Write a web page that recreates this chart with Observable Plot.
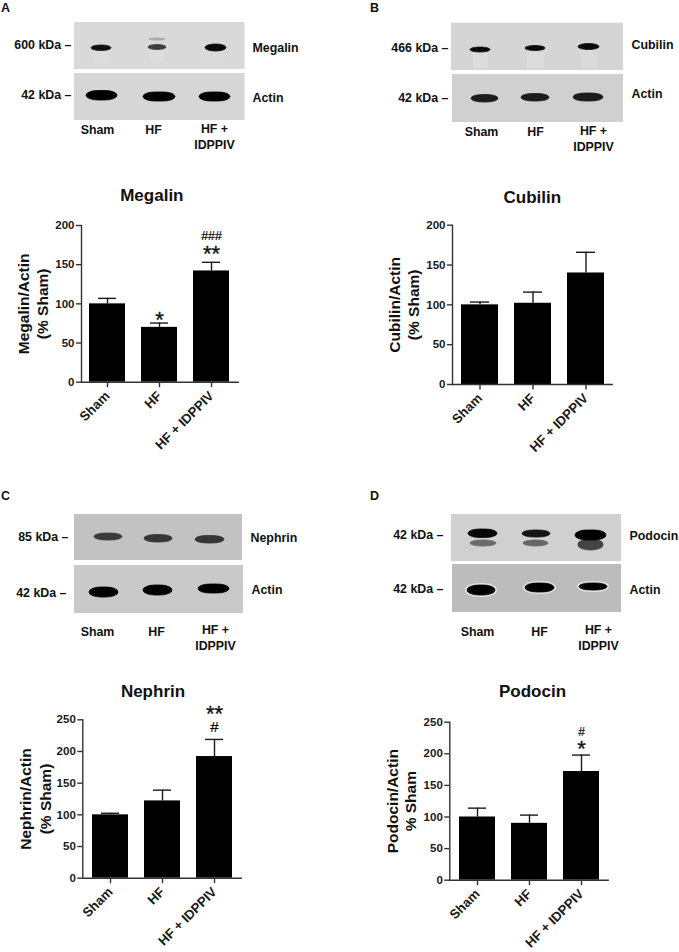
<!DOCTYPE html>
<html>
<head>
<meta charset="utf-8">
<script src="https://cdn.jsdelivr.net/npm/d3@7"></script>
<script src="https://cdn.jsdelivr.net/npm/@observablehq/plot@0.6"></script>
<style>
html,body{margin:0;padding:0;background:#fff}
#fig{position:relative;width:679px;height:952px;overflow:hidden}
#fig>svg{position:absolute;overflow:visible;background:transparent}
</style>
</head>
<body>
<div id="fig"></div>
<script>
// ---------- chart values ----------
const groups = ["Sham", "HF", "HF + IDPPIV"];

const megalinMean = [100, 70, 142];
const megalinTop  = [107, 75.5, 153];
const cubilinMean = [100, 102, 140];
const cubilinTop  = [103.5, 116, 166];
const nephrinMean = [100, 122, 192];
const nephrinTop  = [102.5, 139, 219];
const podocinMean = [100, 90, 172];
const podocinTop  = [114, 103, 198];

const yTicks200 = [0, 50, 100, 150, 200];
const yTicks250 = [0, 50, 100, 150, 200, 250];

// significance marks: [group, height in axis units, symbol]
const megalinMarks = [["HF", 80, "*"], ["HF + IDPPIV", 164, "**"], ["HF + IDPPIV", 186, "###"]];
const cubilinMarks = [];
const nephrinMarks = [["HF + IDPPIV", 260, "**"], ["HF + IDPPIV", 238, "#"]];
const podocinMarks = [["HF + IDPPIV", 208, "*"], ["HF + IDPPIV", 235, "#"]];

// ---------- bar chart panels ----------
const FONT = "'Liberation Sans', Arial, sans-serif";
const INK = "#1a1a1a";
const fig = document.getElementById("fig");

function barPanel(p) {
  const rows = groups.map((g, i) => ({group: g, mean: p.mean[i], top: p.top[i]}));
  const notes = p.notes.map(([group, y, sym]) => ({group, y, sym}));
  const big = notes.filter(d => d.sym.includes("*"));
  const hash = notes.filter(d => d.sym.includes("#"));
  const box = p.box; // left, top, width, height of the svg
  const plot = Plot.plot({
    width: box.w, height: box.h,
    marginLeft: p.ax.x0 - box.x, marginRight: box.x + box.w - p.ax.x1,
    marginTop: p.ax.yTop - box.y, marginBottom: box.y + box.h - p.ax.y0,
    style: {fontFamily: FONT, fontWeight: "bold", color: INK, background: "transparent", overflow: "visible"},
    x: {domain: groups, paddingInner: 0.31, paddingOuter: 0.155, label: null},
    y: {domain: [0, p.yMax], label: null},
    marks: [
      Plot.ruleX(rows, {x: "group", y1: "mean", y2: "top", stroke: INK, strokeWidth: 1.4}),
      Plot.tickY(rows, {x: "group", y: "top", stroke: INK, strokeWidth: 1.4, insetLeft: 9, insetRight: 9}),
      Plot.barY(rows, {x: "group", y: "mean", fill: "#000"}),
      Plot.frame({anchor: "left", stroke: "#333", strokeWidth: 1.4}),
      Plot.frame({anchor: "bottom", stroke: "#333", strokeWidth: 1.4}),
      Plot.axisY({ticks: p.ticks, tickSize: 5, tickPadding: 2, label: null, fontSize: 11.5, tickFormat: d => String(d), stroke: "#333", strokeWidth: 1.4}),
      Plot.axisX({tickSize: 5.5, tickPadding: 6, tickRotate: -45, label: null, fontSize: 13.2, stroke: "#333", strokeWidth: 1.4}),
      Plot.text(big, {x: "group", y: "y", text: "sym", fontSize: 22, fontWeight: "normal", fill: "#111", stroke: "#111", strokeWidth: 0.35, lineAnchor: "middle"}),
      Plot.text(hash, {x: "group", y: "y", text: "sym", fontSize: p.hashSize, fontWeight: "normal", fill: "#000", stroke: "#000", strokeWidth: 0.2, lineAnchor: "middle"}),
      Plot.text([p.title], {frameAnchor: "top", dx: p.titleDx, dy: p.titleDy, fontSize: 17, fill: "#111", lineAnchor: "middle"}),
      Plot.text([p.yTitle], {frameAnchor: "left", dx: p.yTitleDx, rotate: -90, textAnchor: "middle", lineAnchor: "middle", fontSize: 15.5, lineHeight: p.yLine, fill: "#111"})
    ]
  });
  plot.style.left = box.x + "px";
  plot.style.top = box.y + "px";
  fig.appendChild(plot);
}

barPanel({title: "Megalin", yTitle: "Megalin/Actin\n(% Sham)", mean: megalinMean, top: megalinTop, notes: megalinMarks, ticks: yTicks200, yMax: 200, hashSize: 12.4,
  box: {x: 0, y: 175, w: 340, h: 285}, ax: {x0: 81, x1: 237.7, yTop: 225, y0: 381.7}, titleDx: -8, titleDy: -30, yTitleDx: -49, yLine: 1.24});
barPanel({title: "Cubilin", yTitle: "Cubilin/Actin\n(% Sham)", mean: cubilinMean, top: cubilinTop, notes: cubilinMarks, ticks: yTicks200, yMax: 200, hashSize: 12,
  box: {x: 340, y: 175, w: 339, h: 285}, ax: {x0: 452, x1: 611.7, yTop: 224.7, y0: 384}, titleDx: 0, titleDy: -28, yTitleDx: -49, yLine: 1.24});
barPanel({title: "Nephrin", yTitle: "Nephrin/Actin\n(% Sham)", mean: nephrinMean, top: nephrinTop, notes: nephrinMarks, ticks: yTicks250, yMax: 250, hashSize: 15,
  box: {x: 0, y: 672, w: 340, h: 280}, ax: {x0: 82.3, x1: 240.7, yTop: 719.3, y0: 877.7}, titleDx: -9, titleDy: -28, yTitleDx: -48, yLine: 1.24});
barPanel({title: "Podocin", yTitle: "Podocin/Actin\n% Sham", mean: podocinMean, top: podocinTop, notes: podocinMarks, ticks: yTicks250, yMax: 250, hashSize: 12,
  box: {x: 340, y: 672, w: 339, h: 280}, ax: {x0: 449.3, x1: 607.7, yTop: 721.7, y0: 879.7}, titleDx: 3.5, titleDy: -31, yTitleDx: -49, yLine: 1.18});

// ---------- western blot strips (layout) ----------
const stripX1 = [74, 74, 451, 452, 74, 74, 451, 452];
const stripX2 = [244.5, 244.5, 623, 623, 242, 243, 621, 621];
const stripY1 = [22, 73, 22.7, 74, 514, 565, 514, 564];
const stripY2 = [69, 120, 70, 122, 560, 613, 561, 612];
const stripFill = ["#d9d9d9", "#d6d6d6", "#d5d5d5", "#d0d0d0", "#c2c2c2", "#c9c9c9", "#d0d0d0", "#bcbcbc"];

// x1, x2, y1, y2, grey
const smearRows = [
  [93,109,52,64,"#dcdcdc"],[150,164,51,62,"#dcdcdc"],[207,224,52,66,"#dadada"],
  [473,488,53,68,"#dcdcdc"],[527,544,52,68,"#dcdcdc"],[581,597,51,68,"#dadada"]
];
const bandRows = [
  [91,111,45,50.5,"#111"],[148,166,44.5,49.5,"#3c3c3c"],[149,165,38,40,"#aaa"],[205,226,44,51,"#0a0a0a"],
  [86,117,90.5,100,"#000"],[143,175,92,101,"#000"],[199,230,92,101,"#000"],
  [470,490,47,52,"#0a0a0a"],[525,545,45.5,50.5,"#0a0a0a"],[578,599,43.5,49.5,"#0a0a0a"],
  [471,498,94.5,102,"#1c1c1c"],[521,549,93.5,101,"#1c1c1c"],[573,603,93,101,"#1c1c1c"],
  [94,122,533,540,"#3a3a3a"],[144,172,534.5,542,"#363636"],[195,224,535.5,543,"#363636"],
  [89,118,587,597,"#000"],[143,172,585,595,"#000"],[198,229,584,593,"#000"],
  [470,496,540,546,"#6a6a6a"],[523,548,540,546,"#666"],[578,603,539,550,"#444"],
  [468,497,529,537.5,"#060606"],[522,550,530,537,"#141414"],[575,606,530,540,"#000"],
  [467,495,585,595,"#000"],[525,554,583,592,"#000"],[579,607,583,590,"#000"]
];
const haloRows = [
  [465,497,583,597],[523,556,581,594],[577,609,581,592]
];

// text, x, y
const leftLabels = [["Megalin",252,48],["Actin",252,98],["Cubilin",631,45],["Actin",631,94],["Nephrin",250,538],["Actin",251,590],["Podocin",629,536],["Actin",629,590]];
const rightLabels = [["600 kDa –",71,45],["42 kDa –",71,95],["466 kDa –",448,48],["42 kDa –",448,98],["85 kDa –",68,537],["42 kDa –",66,593],["42 kDa –",443,535],["42 kDa –",443,589]];
const laneLabels = [["Sham",97,130],["HF",153,130],["HF +",214,129],["IDPPIV",214,144.5],
  ["Sham",481,132],["HF",535,132],["HF +",593,131],["IDPPIV",593,147],
  ["Sham",97,632],["HF",156,632],["HF +",215,630],["IDPPIV",215,646],
  ["Sham",477,632],["HF",539,632],["HF +",598,630],["IDPPIV",598,646]];
const panelLetters = [["A",5,7],["B",374,7],["C",5,495],["D",374,495]];

const toRect = ([x1, x2, y1, y2, fill]) => ({x1, x2, y1, y2, fill});
const strips = stripX1.map((x1, i) => ({x1, x2: stripX2[i], y1: stripY1[i], y2: stripY2[i], fill: stripFill[i]}));
const smears = smearRows.map(toRect);
const bands = bandRows.map(toRect);
const halos = haloRows.map(toRect);
const textOpts = {x: d => d[1], y: d => d[2], text: d => d[0], lineAnchor: "middle", fill: "#111", fontWeight: "bold", fontSize: 12.4};

const overlay = Plot.plot({
  width: 679, height: 952, margin: 0,
  style: {fontFamily: FONT, background: "transparent"},
  x: {domain: [0, 679], range: [0, 679], axis: null},
  y: {domain: [0, 952], range: [0, 952], axis: null},
  marks: [
    Plot.rect(strips, {x1: "x1", x2: "x2", y1: "y1", y2: "y2", fill: "fill", ariaLabel: "strip"}),
    Plot.rect(smears, {x1: "x1", x2: "x2", y1: "y1", y2: "y2", fill: "fill", ariaLabel: "smear"}),
    Plot.rect(halos, {x1: "x1", x2: "x2", y1: "y1", y2: "y2", fill: "#e2e2e2", rx: 14, ry: 7, ariaLabel: "halo"}),
    Plot.rect(bands, {x1: "x1", x2: "x2", y1: "y1", y2: "y2", fill: "fill", stroke: "fill", strokeWidth: 0.8, rx: 12, ry: 5, ariaLabel: "band"}),
    Plot.text(leftLabels, {...textOpts, textAnchor: "start"}),
    Plot.text(rightLabels, {...textOpts, textAnchor: "end"}),
    Plot.text(laneLabels, {...textOpts, textAnchor: "middle"}),
    Plot.text(panelLetters, {...textOpts, textAnchor: "middle", fontSize: 12.5})
  ]
});
overlay.querySelectorAll('[aria-label="band"]').forEach(g => g.style.filter = "blur(0.8px)");
overlay.querySelectorAll('[aria-label="halo"]').forEach(g => g.style.filter = "blur(0.8px)");
overlay.querySelectorAll('[aria-label="smear"]').forEach(g => g.style.filter = "blur(2px)");
overlay.style.left = "0"; overlay.style.top = "0";
fig.insertBefore(overlay, fig.firstChild);
</script>
</body>
</html>
